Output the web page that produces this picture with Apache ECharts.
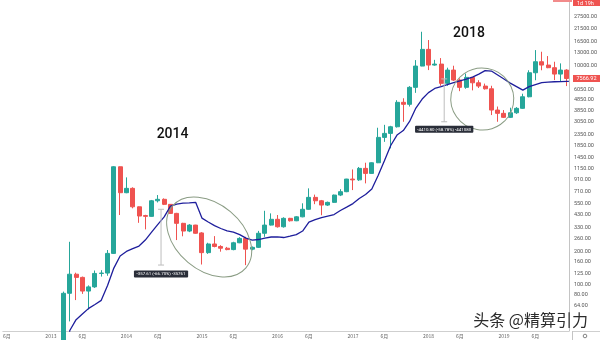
<!DOCTYPE html>
<html><head><meta charset="utf-8">
<script src="https://cdn.jsdelivr.net/npm/echarts@6/dist/echarts.min.js"></script>
<style>html,body{margin:0;padding:0;background:#fff}#c{width:600px;height:340px}</style>
</head><body><div id="c"></div>
<script>
// month index: 0 = Jan 2013
const monthIdx = [2,3,4,5,6,7,8,9,10,11,12,13,14,15,16,17,18,19,20,21,22,23,24,25,26,27,28,29,30,31,32,33,34,35,36,37,38,39,40,41,42,43,44,45,46,47,48,49,50,51,52,53,54,55,56,57,58,59,60,61,62,63,64,65,66,67,68,69,70,71,72,73,74,75,76,77,78,79,80,81,82];
const openP  = [30,83,124,116,87,95,126,127,192,1185,687,753,511,425,418,580,598,538,445,361,307,348,295,195,234,222,214,208,240,263,210,218,293,348,393,336,401,381,414,485,623,580,530,561,654,702,915,900,1146,1031,1289,2197,2390,2747,4590,4400,6286,9831,13960,10038,10249,6837,9035,7326,6286,7753,6918,6458,6099,3901,3641,3348,3685,4044,5156,8544,10764,10038,9500,8308,9035];
const closeP = [83,124,116,87,95,126,127,192,1185,687,753,511,421,418,580,598,538,445,361,307,348,293,195,234,222,214,208,240,263,210,218,293,348,393,336,401,381,414,485,623,580,530,561,654,702,915,900,1146,1031,1289,2197,2390,2747,4590,4400,6286,9831,13960,10038,10249,6837,9035,7326,6286,7753,6918,6458,6099,3901,3641,3348,3685,4044,5156,8544,10764,10038,9500,8308,9035,7566.92];
const lowP   = [30,46,72,82,59,93,118,120,190,430,680,495,365,318,415,560,530,440,254,275,300,290,152,190,218,199,205,205,238,150,205,215,272,345,330,330,375,378,410,480,540,428,520,555,640,695,726,880,836,1030,1280,2000,1744,2700,3050,4200,5600,9800,9035,9900,6500,6500,7200,5800,6100,5900,6200,6000,3511,3051,3300,3300,3600,4000,5100,7300,9000,9400,7326,7070,6458];
const highP  = [86,245,128,118,98,134,135,206,1200,1190,948,770,515,432,590,654,610,540,450,365,355,350,300,240,276,228,220,245,270,272,222,308,470,445,430,410,405,420,550,753,660,590,570,660,740,920,1120,1180,1290,1300,2690,2860,2800,4800,5000,6450,11148,20212,16984,11200,11626,9500,9900,7600,8400,7800,7300,6800,6500,4200,3900,4100,4150,5500,9000,13754,13280,12126,10764,10400,9200];
const maMonths = [2.95,3,4,5,6,7,8,9,10,11,12,13,14,15,16,17,18,19,20,21,22,23,24,25,26,27,28,29,30,31,32,33,34,35,36,37,38,39,40,41,42,43,44,45,46,47,48,49,50,51,52,53,54,55,56,57,58,59,60,61,62,63,64,65,66,67,68,69,70,71,72,73,74,75,76,77,78,79,80,81,82,82.32];
const maValues = [36,38,47.7,53.8,60.5,65.7,71.6,97.7,141,182,200,212,224,254,300,353,413,519,541,551,555,561,403,371,344,324,308,300,285,265,254,257,265,271,272,268,276,285,307,371,391,408,421,434,473,508,547,608,661,742,988,1346,1854,2307,2537,3071,4069,4915,5628,6140,6391,6665,6950,7202,7480,7800,8308,8940,8850,8135,7480,6875,6391,5935,6391,6665,6950,7022,7070,7100,7130,7140];
const xTickMonths = [-7,0,5,12,17,24,29,36,41,48,53,60,65,72,77];
const xTickLabels = ['6月','2013','6月','2014','6月','2015','6月','2016','6月','2017','6月','2018','6月','2019','6月'];
const yTickValues = [64,80,100,125,160,200,260,330,430,550,710,910,1150,1450,1850,2350,3050,3850,4850,6050,10000,13000,16500,21500,27500];
const lastPrice = 7566.92;
const measure2014 = {top:485, bottom:150.3, text:'-357.61 (-66.70%) -35761'};
const measure2018 = {top:7504, bottom:3051, text:'-4410.80 (-58.78%) -441080'};

const chart = echarts.init(document.getElementById('c'), null, {renderer:'canvas', width:600, height:340});
const candleData = monthIdx.map((m,i)=>[m, openP[i], closeP[i], lowP[i], highP[i]]);
const maData = maMonths.map((m,i)=>[m, maValues[i]]);
chart.setOption({
  animation:false,
  backgroundColor:'#ffffff',
  grid:{left:0,right:28,top:0,bottom:9,containLabel:false},
  xAxis:{type:'value',min:-7.64,max:82.32,
    axisLine:{show:true,onZero:false,lineStyle:{color:'#cfcfcf',width:1}},
    axisTick:{show:false},splitLine:{show:false},
    axisLabel:{customValues:xTickMonths,formatter:function(v){const i=xTickMonths.indexOf(v);return i>=0?xTickLabels[i]:'';},
      fontSize:5,color:'#666',margin:3,fontFamily:'"Noto Sans CJK SC", sans-serif'}},
  yAxis:{type:'log',position:'right',min:37.6,max:39390,
    axisLine:{show:true,onZero:false,lineStyle:{color:'#c4c4c4',width:1}},
    axisTick:{show:false},splitLine:{show:false},
    axisLabel:{customValues:yTickValues,formatter:function(v){return Number(v).toFixed(2);},fontSize:5.5,color:'#555',margin:5,fontFamily:'Roboto, sans-serif'}},
  series:[
    {type:'candlestick',data:candleData,barWidth:4.5,clip:true,
     itemStyle:{color:'#26a69a',color0:'#ef5350',borderColor:'#26a69a',borderColor0:'#ef5350',borderWidth:1}},
    {type:'line',data:maData,symbol:'none',showSymbol:false,clip:true,z:3,
     lineStyle:{color:'#1e1e9c',width:1.3}}
  ]
});

function px(m,v){return chart.convertToPixel({xAxisIndex:0,yAxisIndex:0},[m,v]);}
const g=[];
function ell(m,v,rx,ry,deg){const p=px(m,v);g.push({type:'ellipse',x:p[0],y:p[1],rotation:-deg*Math.PI/180,shape:{cx:0,cy:0,rx:rx,ry:ry},style:{fill:'none',stroke:'#8a9c84',lineWidth:1},silent:true,z:10});}
ell(25.15,271,48,33,40);
ell(68.55,4915,31.5,31,10);
function measure(m,obj,gap){
  const a=px(m,obj.top), b=px(m,obj.bottom);
  g.push({type:'line',shape:{x1:a[0],y1:a[1],x2:b[0],y2:b[1]},style:{stroke:'#bdbdbd',lineWidth:1},z:9,silent:true});
  g.push({type:'line',shape:{x1:a[0]-3,y1:a[1],x2:a[0]+3,y2:a[1]},style:{stroke:'#bdbdbd',lineWidth:1},z:9,silent:true});
  g.push({type:'line',shape:{x1:b[0]-3,y1:b[1],x2:b[0]+3,y2:b[1]},style:{stroke:'#bdbdbd',lineWidth:1},z:9,silent:true});
  const w=obj.text.length*2.05+5;
  g.push({type:'rect',shape:{x:b[0]-w/2,y:b[1]+gap,width:w,height:7,r:1},style:{fill:'#2a2e39'},z:11,silent:true});
  g.push({type:'text',style:{text:obj.text,x:b[0],y:b[1]+gap+3.7,align:'center',verticalAlign:'middle',fill:'#ffffff',font:'4.4px Roboto, sans-serif'},z:12,silent:true});
}
measure(17.5,measure2014,5.5);
measure(62.5,measure2018,4);
function label(m,v,t){const p=px(m,v);g.push({type:'text',style:{text:t,x:p[0],y:p[1],align:'center',verticalAlign:'middle',fill:'#111',font:'500 14px Roboto, sans-serif'},z:12,silent:true});}
label(19.33,2357,'2014');
label(66.43,19450,'2018');
// price label
const pp=px(82,lastPrice);
g.push({type:'rect',shape:{x:573,y:pp[1]-3.5,width:27,height:7},style:{fill:'#ef5350'},z:12,silent:true});
g.push({type:'text',style:{text:lastPrice.toFixed(2),x:576.5,y:pp[1],align:'left',verticalAlign:'middle',fill:'#fff',font:'5.5px Roboto, sans-serif'},z:13,silent:true});
g.push({type:'rect',shape:{x:573,y:-3,width:27,height:9},style:{fill:'#ef5350'},z:12,silent:true});
g.push({type:'text',style:{text:'1d 19h',x:577,y:3.5,align:'left',verticalAlign:'middle',fill:'#fff',font:'5.5px Roboto, sans-serif'},z:13,silent:true});
g.push({type:'rect',shape:{x:553,y:-3,width:19,height:5},style:{fill:'#f28b8b'},z:12,silent:true});
// axis extensions & icon
g.push({type:'line',shape:{x1:572,y1:331.5,x2:600,y2:331.5},style:{stroke:'#cfcfcf',lineWidth:1},z:5,silent:true});
g.push({type:'line',shape:{x1:572.5,y1:331,x2:572.5,y2:340},style:{stroke:'#c4c4c4',lineWidth:1},z:5,silent:true});
g.push({type:'circle',shape:{cx:585,cy:336,r:1.8},style:{fill:'none',stroke:'#666',lineWidth:0.8},z:5,silent:true});
// watermark
g.push({type:'text',style:{text:'头条 @精算引力',x:588,y:320,align:'right',verticalAlign:'middle',fill:'#2b2b2b',font:'16px "Noto Sans CJK SC", sans-serif'},z:20,silent:true});
chart.setOption({graphic:g});
</script></body></html>
